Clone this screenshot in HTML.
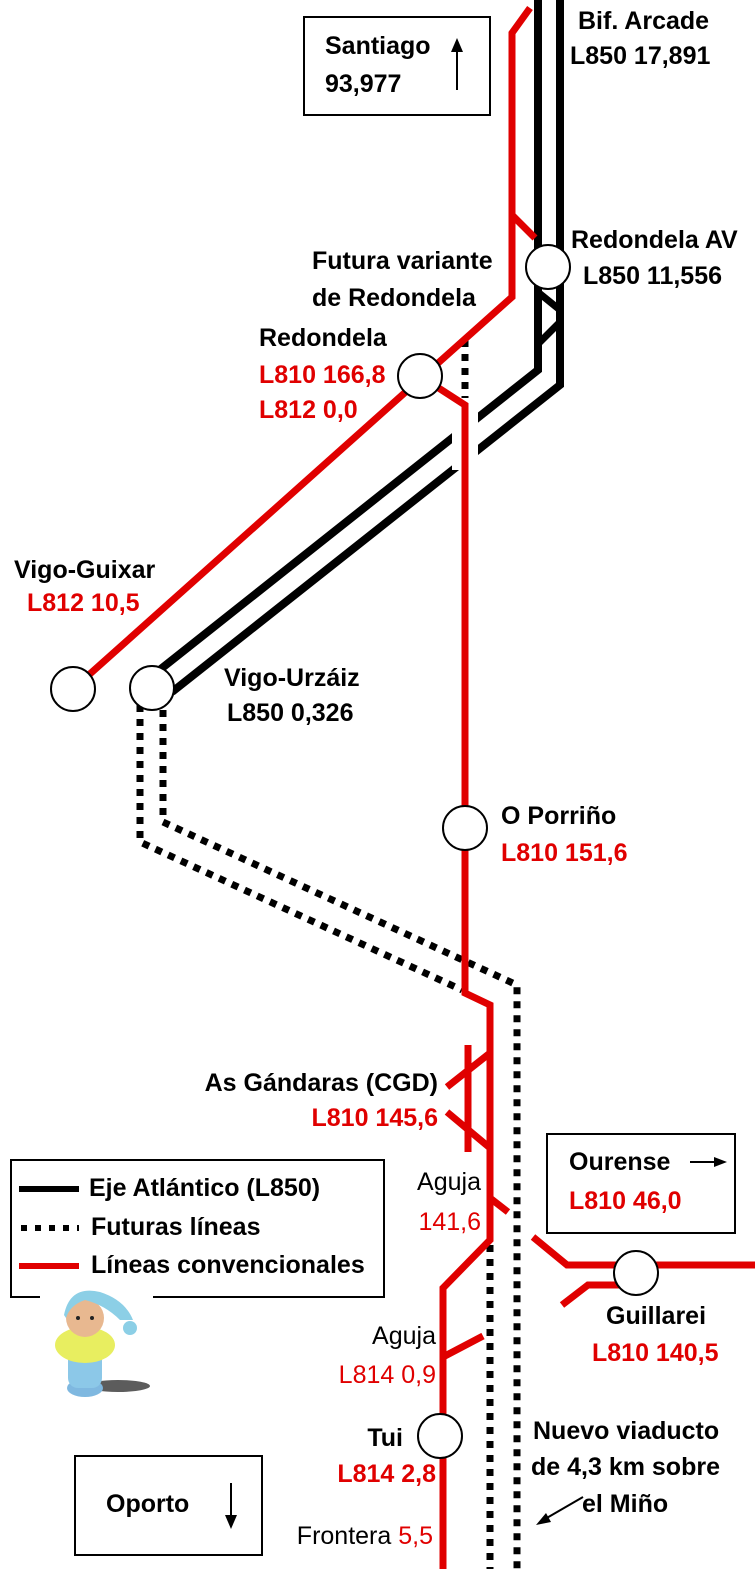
<!DOCTYPE html>
<html><head><meta charset="utf-8"><style>
html,body{margin:0;padding:0;background:#fff;}
svg{display:block;}
text{font-family:"Liberation Sans",sans-serif;font-size:25px;}
.b{font-weight:bold;fill:#000;}
.r{font-weight:bold;fill:#e00000;}
.rn{fill:#e00000;}
.n{fill:#000;}
.e{text-anchor:end;}
</style></head><body>
<svg width="755" height="1569" viewBox="0 0 755 1569" xmlns="http://www.w3.org/2000/svg">
<g fill="none" stroke-linejoin="miter">
<polyline points="538,0 538,370 157,672" stroke="#000" stroke-width="8"/>
<polyline points="560,0 560,385 172,692" stroke="#000" stroke-width="8"/>
<line x1="539" y1="293" x2="560" y2="310" stroke="#000" stroke-width="7"/>
<line x1="560" y1="322" x2="539" y2="343" stroke="#000" stroke-width="7"/>
<line x1="465" y1="405" x2="465" y2="470" stroke="#fff" stroke-width="26"/>
<g stroke="#000" stroke-width="7" stroke-dasharray="7,7">
<line x1="465" y1="340" x2="465" y2="398"/>
<polyline points="140,705 140,842 462,990"/>
<polyline points="163,710 163,822 517,985 517,1569"/>
<line x1="490" y1="1245" x2="490" y2="1569"/>
</g>
<g stroke="#e00000" stroke-width="7">
<polyline points="530,8 512,33 512,297 73,689"/>
<line x1="512" y1="215" x2="535" y2="238"/>
<polyline points="420,376 465,405 465,993 490,1005 490,1240 443,1288 443,1569"/>
<line x1="468" y1="1045" x2="468" y2="1152"/>
<line x1="447" y1="1087" x2="490" y2="1053"/>
<line x1="447" y1="1112" x2="490" y2="1148"/>
<line x1="490" y1="1198" x2="508" y2="1212"/>
<line x1="443" y1="1357" x2="483" y2="1336"/>
<polyline points="533,1237 567,1265 755,1265"/>
<polyline points="562,1305 588,1285 625,1285"/>
</g>
</g>
<line x1="465" y1="405" x2="465" y2="470" stroke="#e00000" stroke-width="7"/>
<g fill="#fff" stroke="#000" stroke-width="2">
<circle cx="548" cy="267" r="22"/>
<circle cx="420" cy="376" r="22"/>
<circle cx="73" cy="689" r="22"/>
<circle cx="152" cy="688" r="22"/>
<circle cx="465" cy="828" r="22"/>
<circle cx="636" cy="1273" r="22"/>
<circle cx="440" cy="1436" r="22"/>
</g>
<g fill="none" stroke="#000" stroke-width="2">
<rect x="304" y="17" width="186" height="98"/>
<rect x="547" y="1134" width="188" height="99"/>
<rect x="75" y="1456" width="187" height="99"/>
<polyline points="40,1297 11,1297 11,1160 384,1160 384,1297 153,1297"/>
</g>
<line x1="457" y1="90" x2="457" y2="48" stroke="#000" stroke-width="2"/>
<polygon points="451,52 463,52 457,38" fill="#000"/>
<line x1="690" y1="1162" x2="716" y2="1162" stroke="#000" stroke-width="2"/>
<polygon points="714,1157 727,1162 714,1167" fill="#000"/>
<line x1="231" y1="1483" x2="231" y2="1518" stroke="#000" stroke-width="2"/>
<polygon points="225,1515 237,1515 231,1529" fill="#000"/>
<line x1="583" y1="1497" x2="545" y2="1519" stroke="#000" stroke-width="2"/>
<polygon points="536,1525 546,1513 551,1522" fill="#000"/>
<line x1="19" y1="1189" x2="79" y2="1189" stroke="#000" stroke-width="6"/>
<line x1="21" y1="1228" x2="79" y2="1228" stroke="#000" stroke-width="6" stroke-dasharray="6,8"/>
<line x1="19" y1="1266" x2="79" y2="1266" stroke="#e00000" stroke-width="6"/>
<g>
<ellipse cx="118" cy="1386" rx="32" ry="6" fill="#333" opacity="0.8"/>
<ellipse cx="85" cy="1388" rx="18" ry="9" fill="#7fb8e0"/>
<rect x="68" y="1350" width="34" height="38" rx="10" fill="#8cc8e8"/>
<ellipse cx="85" cy="1345" rx="30" ry="18" fill="#e8ee60"/>
<circle cx="85" cy="1318" r="19" fill="#e8b890"/>
<path d="M64,1315 Q70,1285 100,1292 Q125,1300 133,1320 L120,1320 Q105,1305 85,1300 Q70,1305 66,1318 Z" fill="#8ccfe6"/>
<circle cx="130" cy="1328" r="7" fill="#8ccfe6"/>
<circle cx="78" cy="1318" r="2" fill="#222"/><circle cx="92" cy="1318" r="2" fill="#222"/>
</g>
<text class="b" x="325" y="54">Santiago</text>
<text class="b" x="325" y="92">93,977</text>
<text class="b" x="578" y="29">Bif. Arcade</text>
<text class="b" x="570" y="64">L850 17,891</text>
<text class="b" x="571" y="248">Redondela AV</text>
<text class="b" x="583" y="284">L850 11,556</text>
<text class="b" x="312" y="269">Futura variante</text>
<text class="b" x="312" y="306">de Redondela</text>
<text class="b" x="259" y="346">Redondela</text>
<text class="r" x="259" y="383">L810 166,8</text>
<text class="r" x="259" y="418">L812 0,0</text>
<text class="b" x="14" y="578">Vigo-Guixar</text>
<text class="r" x="27" y="611">L812 10,5</text>
<text class="b" x="224" y="686">Vigo-Urzáiz</text>
<text class="b" x="227" y="721">L850 0,326</text>
<text class="b" x="501" y="824">O Porriño</text>
<text class="r" x="501" y="861">L810 151,6</text>
<text class="b e" x="438" y="1091">As Gándaras (CGD)</text>
<text class="r e" x="438" y="1126">L810 145,6</text>
<text class="n e" x="481" y="1190">Aguja</text>
<text class="rn e" x="481" y="1230">141,6</text>
<text class="b" x="569" y="1170">Ourense</text>
<text class="r" x="569" y="1209">L810 46,0</text>
<text class="b" x="606" y="1324">Guillarei</text>
<text class="r" x="592" y="1361">L810 140,5</text>
<text class="n e" x="436" y="1344">Aguja</text>
<text class="rn e" x="436" y="1383">L814 0,9</text>
<text class="b e" x="403" y="1446">Tui</text>
<text class="r e" x="436" y="1482">L814 2,8</text>
<text class="n e" x="433" y="1544">Frontera <tspan class="rn">5,5</tspan></text>
<text class="b" x="106" y="1512">Oporto</text>
<text class="b" x="533" y="1439">Nuevo viaducto</text>
<text class="b" x="531" y="1475">de 4,3 km sobre</text>
<text class="b" x="582" y="1512">el Miño</text>
<text class="b" x="89" y="1196">Eje Atlántico (L850)</text>
<text class="b" x="91" y="1235">Futuras líneas</text>
<text class="b" x="91" y="1273">Líneas convencionales</text>
</svg>
</body></html>
